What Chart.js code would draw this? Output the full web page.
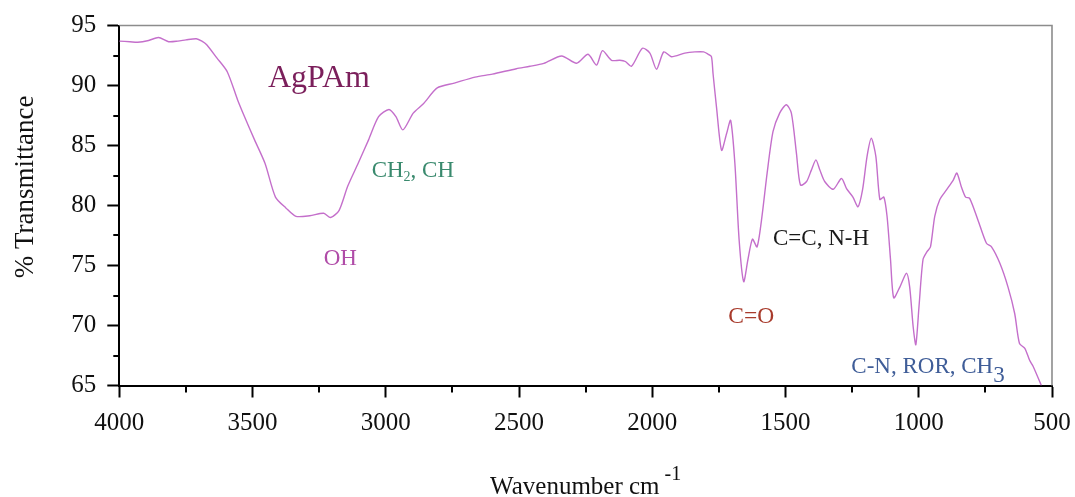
<!DOCTYPE html>
<html>
<head>
<meta charset="utf-8">
<script src="https://cdn.jsdelivr.net/npm/chart.js@4.4.1/dist/chart.umd.min.js"></script>
<style>
  html, body { margin: 0; padding: 0; background: #ffffff; }
  #wrap { width: 1075px; height: 497px; }
</style>
</head>
<body>
<div id="wrap"><canvas id="c" width="1075" height="497"></canvas></div>
<script>
// ---- data ----
const wavenumbers = [4000,3960,3931,3890,3853,3815,3780,3750,3711,3690,3672,3634,3595,3556,3530,3492,3453,3414,3375,3337,3285,3233,3207,3175,3143,3104,3065,3027,2988,2962,2936,2897,2858,2807,2743,2665,2600,2510,2459,2407,2340,2284,2241,2209,2187,2153,2122,2101,2078,2037,2009,1984,1957,1928,1878,1840,1807,1790,1778,1772,1759,1740,1721,1706,1690,1674,1657,1641,1624,1607,1590,1569,1547,1522,1497,1478,1459,1444,1421,1403,1386,1371,1353,1321,1290,1271,1247,1228,1211,1194,1178,1161,1146,1131,1119,1106,1094,1071,1046,1034,1021,1011,999,984,969,956,940,921,896,871,857,840,824,809,778,746,727,696,665,640,622,602,584,571,540];
const transmittance = [93.7,93.65,93.6,93.75,94.0,93.65,93.7,93.8,93.9,93.7,93.4,92.3,91.15,88.8,87.4,85.45,83.5,80.7,79.8,79.1,79.15,79.35,79.0,79.6,81.6,83.5,85.45,87.4,88.0,87.4,86.3,87.7,88.5,89.8,90.2,90.7,90.95,91.4,91.6,91.85,92.46,91.85,92.6,91.7,92.9,92.1,92.1,92.0,91.6,93.1,92.7,91.35,92.8,92.4,92.7,92.8,92.8,92.6,92.4,91.0,88.2,84.6,86.0,87.1,83.5,77.1,73.65,75.5,77.2,76.55,78.8,82.7,86.15,87.7,88.4,87.7,84.35,81.7,82.0,82.95,83.8,82.95,82.0,81.35,82.25,81.4,80.7,79.9,81.3,84.1,85.6,84.1,80.5,80.7,79.1,75.5,72.3,73.2,74.35,73.2,69.9,68.4,71.6,75.5,76.15,76.55,79.1,80.5,81.3,82.1,82.7,81.55,80.7,80.6,78.8,76.85,76.55,75.2,73.2,71.0,68.5,68.1,67.1,66.6,65.0];
const xTicksMajor = [4000,3500,3000,2500,2000,1500,1000,500];
const yTicksMajor = [95,90,85,80,75,70,65];
const seriesName = 'AgPAm';

// annotation labels (text segments: [text, isSub]) anchored at data coordinates (left edge, baseline)
const annoText  = [
  [['AgPAm',0]],
  [['CH',0],['2',1],[', CH',0]],
  [['OH',0]],
  [['C=O',0]],
  [['C=C, N-H',0]],
  [['C-N, ROR, CH',0],['3',2]]
];
const annoWn    = [3442, 3053, 3233, 1715, 1547, 1253];
const annoT     = [89.9, 82.4, 75.04, 70.23, 76.71, 66.02];
const annoColor = ['#7b1f5b', '#3a8a6e', '#b04ca8', '#a83b2c', '#1a1a1a', '#3f5d98'];
const annoSize  = [32, 23, 23, 23.5, 23, 23];

// ---- plugin: frame, minor ticks, titles, annotations ----
const serif = '"Liberation Serif", "Times New Roman", serif';
const extras = {
  id: 'extras',
  afterDraw(chart) {
    const ctx = chart.ctx;
    const a = chart.chartArea;
    const xs = chart.scales.x, ys = chart.scales.y;
    ctx.save();
    // grey top / right frame
    ctx.strokeStyle = '#8c8c8c';
    ctx.lineWidth = 1.6;
    ctx.beginPath();
    ctx.moveTo(a.left, a.top);
    ctx.lineTo(a.right, a.top);
    ctx.lineTo(a.right, a.bottom);
    ctx.stroke();
    // minor ticks
    ctx.strokeStyle = '#000';
    ctx.lineWidth = 2;
    ctx.beginPath();
    for (let i = 0; i < xTicksMajor.length - 1; i++) {
      const v = (xTicksMajor[i] + xTicksMajor[i + 1]) / 2;
      const px = Math.round(xs.getPixelForValue(v));
      ctx.moveTo(px, a.bottom);
      ctx.lineTo(px, a.bottom + 7);
    }
    for (let i = 0; i < yTicksMajor.length - 1; i++) {
      const v = (yTicksMajor[i] + yTicksMajor[i + 1]) / 2;
      const py = Math.round(ys.getPixelForValue(v));
      ctx.moveTo(a.left, py);
      ctx.lineTo(a.left - 6, py);
    }
    ctx.stroke();
    // x title with superscript
    ctx.fillStyle = '#111';
    ctx.textBaseline = 'alphabetic';
    ctx.textAlign = 'left';
    ctx.font = '25px ' + serif;
    const t1 = 'Wavenumber cm';
    const w1 = ctx.measureText(t1).width;
    ctx.font = '20px ' + serif;
    const t2 = '-1';
    const w2 = ctx.measureText(t2).width;
    const cx = (a.left + a.right) / 2;
    const x0 = cx - (w1 + 5 + w2) / 2;
    ctx.font = '25px ' + serif;
    ctx.fillText(t1, x0, 494);
    ctx.font = '20px ' + serif;
    ctx.fillText(t2, x0 + w1 + 5, 480);
    // y title
    ctx.save();
    ctx.translate(33, 187);
    ctx.rotate(-Math.PI / 2);
    ctx.font = '27px ' + serif;
    ctx.textAlign = 'center';
    ctx.fillText('% Transmittance', 0, 0);
    ctx.restore();
    // annotations
    for (let i = 0; i < annoText.length; i++) {
      let px = xs.getPixelForValue(annoWn[i]);
      const py = ys.getPixelForValue(annoT[i]);
      ctx.fillStyle = annoColor[i];
      for (const seg of annoText[i]) {
        let size = annoSize[i], dy = 0;
        if (seg[1] === 1) { size = 14; dy = 4; }
        if (seg[1] === 2) { size = annoSize[i]; dy = 9; }
        ctx.font = size + 'px ' + serif;
        ctx.fillText(seg[0], px, py + dy);
        px += ctx.measureText(seg[0]).width;
      }
    }
    ctx.restore();
  }
};

const points = wavenumbers.map((w, i) => ({ x: w, y: transmittance[i] }));

new Chart(document.getElementById('c'), {
  type: 'line',
  data: {
    datasets: [{
      label: seriesName,
      data: points,
      borderColor: '#c46fcb',
      borderWidth: 1.4,
      pointRadius: 0,
      tension: 0.25,
      fill: false
    }]
  },
  options: {
    responsive: false,
    animation: false,
    devicePixelRatio: 1,
    layout: { padding: { left: 0, right: 23, top: 25.5, bottom: 0 } },
    plugins: { legend: { display: false }, tooltip: { enabled: false }, title: { display: false } },
    scales: {
      x: {
        type: 'linear',
        reverse: true,
        min: 500,
        max: 4000,
        afterFit: s => { s.height = 111.5; s.paddingLeft = 0; s.paddingRight = 0; },
        afterBuildTicks: s => { s.ticks = xTicksMajor.map(v => ({ value: v })); },
        ticks: { color: '#111', font: { family: serif, size: 25 }, padding: 11, maxRotation: 0, autoSkip: false,
                 callback: v => String(v) },
        grid: { display: true, drawOnChartArea: false, drawTicks: true, tickLength: 12, tickWidth: 2, tickColor: '#000' },
        border: { display: true, color: '#000', width: 2 }
      },
      y: {
        min: 65,
        max: 95,
        afterFit: s => { s.width = 119.3; s.paddingTop = 0; s.paddingBottom = 0; },
        afterBuildTicks: s => { s.ticks = yTicksMajor.slice().reverse().map(v => ({ value: v })); },
        ticks: { color: '#111', font: { family: serif, size: 25 }, padding: 11, callback: v => String(v) },
        grid: { display: true, drawOnChartArea: false, drawTicks: true, tickLength: 12, tickWidth: 2, tickColor: '#000' },
        border: { display: true, color: '#000', width: 2 }
      }
    }
  },
  plugins: [extras]
});
</script>
</body>
</html>
